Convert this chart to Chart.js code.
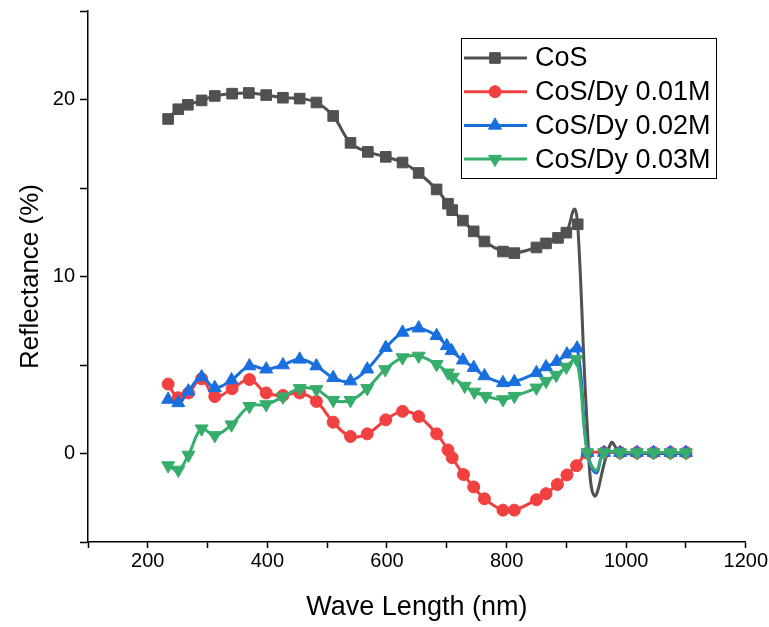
<!DOCTYPE html>
<html lang="en">
<head>
    <meta charset="UTF-8">
    <title>Reflectance</title>
    <script src="https://cdn.jsdelivr.net/npm/chart.js"></script>
    <style>
        body { margin: 0; background: #fff; }
        #wrap { width: 769px; height: 627px; }
    </style>
</head>
<body>
    <div id="wrap"><canvas id="refChart" width="769" height="627"></canvas></div>

    <script>
        // values (x in nm, y in %)
        const seriesNames = ['CoS', 'CoS/Dy 0.01M', 'CoS/Dy 0.02M', 'CoS/Dy 0.03M'];
        const seriesColors = ['#515151', '#F14040', '#1A6FDF', '#37AD6B'];

        const cosX = [234, 251, 267, 290, 312, 341, 369, 398, 426, 454, 482, 510, 539, 568, 598, 626, 653, 683, 702, 709, 727, 745, 763, 794, 813, 850, 866, 886, 900, 919];
        const cosY = [18.9, 19.45, 19.7, 19.95, 20.2, 20.33, 20.37, 20.25, 20.1, 20.05, 19.83, 19.07, 17.55, 17.04, 16.76, 16.44, 15.85, 14.92, 14.11, 13.75, 13.16, 12.55, 11.98, 11.41, 11.32, 11.64, 11.87, 12.18, 12.48, 12.95];
        // line only (no marker): overshoot of the spline after the drop
        const cosLineX = [913, 935, 947, 975, 990, 1018, 1046, 1074, 1100];
        const cosLineY = [13.8, 1.5, -2.4, 0.6, 0.05, 0, 0, 0, 0];

        const dy1X = [234, 251, 268, 290, 312, 341, 370, 398, 426, 454, 482, 510, 539, 567, 598, 626, 653, 683, 702, 709, 728, 745, 763, 794, 813, 850, 866, 885, 901, 917, 935, 963, 990, 1018, 1046, 1074, 1100];
        const dy1Y = [3.92, 3.15, 3.42, 4.22, 3.22, 3.66, 4.18, 3.42, 3.28, 3.42, 2.94, 1.77, 0.96, 1.11, 1.9, 2.38, 2.09, 1.11, 0.2, -0.24, -1.19, -1.89, -2.56, -3.2, -3.2, -2.61, -2.27, -1.75, -1.21, -0.69, 0.02, 0.05, 0.05, 0.05, 0.05, 0.05, 0.05];
        const dy1LineX = [];
        const dy1LineY = [];

        const dy2X = [234, 251, 268, 290, 312, 340, 370, 398, 426, 454, 482, 510, 539, 567, 598, 626, 653, 683, 700, 708, 727, 745, 763, 794, 813, 850, 866, 884, 901, 918, 935, 963, 990, 1018, 1046, 1074, 1100];
        const dy2Y = [3.05, 2.86, 3.52, 4.32, 3.71, 4.15, 4.94, 4.76, 5.0, 5.32, 4.94, 4.28, 4.09, 4.76, 5.98, 6.84, 7.08, 6.65, 6.08, 5.8, 5.27, 4.85, 4.38, 3.99, 4.05, 4.56, 4.89, 5.19, 5.61, 5.95, 0.05, 0.05, 0.05, 0.05, 0.05, 0.05, 0.05];
        const dy2LineX = [950];
        const dy2LineY = [-1.1];

        const dy3X = [234, 251, 268, 290, 312, 340, 370, 398, 426, 454, 482, 510, 539, 567, 597, 626, 653, 683, 702, 710, 730, 746, 765, 794, 813, 850, 866, 883, 900, 917, 935, 963, 990, 1018, 1046, 1074, 1100];
        const dy3Y = [-0.68, -0.93, -0.08, 1.4, 1.02, 1.63, 2.67, 2.77, 3.2, 3.68, 3.62, 3.01, 3.01, 3.68, 4.75, 5.42, 5.51, 5.04, 4.56, 4.32, 3.81, 3.48, 3.24, 3.05, 3.24, 3.71, 4.09, 4.43, 4.89, 5.32, 0.05, 0.05, 0.05, 0.05, 0.05, 0.05, 0.05];
        const dy3LineX = [950];
        const dy3LineY = [-0.95];

        const xTickLabels = [200, 400, 600, 800, 1000, 1200];
        const yTickLabels = [0, 10, 20];

        const pointStyles = ['rect', 'circle', 'triangle', 'triangle'];
        const pointRot = [0, 0, 0, 180];
        const pointSize = [7.5, 6, 7.5, 7.5];

        function buildPoints(xs, ys, lx, ly) {
            const pts = xs.map((x, i) => ({ x: x, y: ys[i], m: true }));
            lx.forEach((x, i) => pts.push({ x: x, y: ly[i], m: false }));
            return pts.sort((a, b) => a.x - b.x);
        }

        const allPoints = [
            buildPoints(cosX, cosY, cosLineX, cosLineY),
            buildPoints(dy1X, dy1Y, dy1LineX, dy1LineY),
            buildPoints(dy2X, dy2Y, dy2LineX, dy2LineY),
            buildPoints(dy3X, dy3Y, dy3LineX, dy3LineY)
        ];

        const datasets = seriesNames.map((name, i) => ({
            label: name,
            data: allPoints[i],
            borderColor: seriesColors[i],
            backgroundColor: seriesColors[i],
            borderWidth: 3,
            tension: 0.4,
            pointStyle: pointStyles[i],
            rotation: pointRot[i],
            pointRadius: ctx => (ctx.raw && ctx.raw.m ? pointSize[i] : 0),
            pointBorderWidth: 1,
            order: 3 - i
        }));

        // legend box inside the plot, line + marker like the original
        const boxLegend = {
            id: 'boxLegend',
            afterDraw(chart) {
                const ctx = chart.ctx;
                const left = 461, top = 38, w = 255, h = 140;
                ctx.save();
                ctx.strokeStyle = '#000';
                ctx.lineWidth = 1;
                ctx.strokeRect(left + 0.5, top + 0.5, w, h);
                ctx.font = '27px "Liberation Sans", Arial, sans-serif';
                ctx.textBaseline = 'middle';
                seriesNames.forEach((name, i) => {
                    const y = 58 + i * 33.7;
                    ctx.strokeStyle = seriesColors[i];
                    ctx.fillStyle = seriesColors[i];
                    ctx.lineWidth = 3;
                    ctx.beginPath();
                    ctx.moveTo(464, y);
                    ctx.lineTo(527, y);
                    ctx.stroke();
                    ctx.lineWidth = 1;
                    Chart.helpers.drawPoint(ctx, {
                        pointStyle: pointStyles[i],
                        rotation: pointRot[i],
                        radius: pointSize[i],
                        borderWidth: 1
                    }, 495, y);
                    ctx.fillStyle = '#000';
                    ctx.fillText(name, 535, y + 1);
                });
                ctx.restore();
            }
        };

        const ctx = document.getElementById('refChart').getContext('2d');
        new Chart(ctx, {
            type: 'line',
            data: { datasets: datasets },
            options: {
                responsive: false,
                animation: false,
                layout: { padding: { left: 15, right: 23, top: 0, bottom: 3 } },
                plugins: {
                    legend: { display: false },
                    tooltip: { enabled: false }
                },
                scales: {
                    x: {
                        type: 'linear',
                        min: 100,
                        max: 1200,
                        afterFit: s => { s.height = 82; },
                        border: { color: '#000', width: 1.5 },
                        grid: { drawOnChartArea: false, tickLength: 6, tickColor: '#000', tickWidth: 1.5 },
                        ticks: {
                            stepSize: 100,
                            autoSkip: false,
                            maxRotation: 0,
                            padding: 1,
                            color: '#000',
                            font: { family: '"Liberation Sans", Arial, sans-serif', size: 20 },
                            callback: v => (xTickLabels.includes(v) ? String(v) : '')
                        },
                        title: {
                            display: true,
                            text: 'Wave Length (nm)',
                            color: '#000',
                            padding: 0,
                            font: { family: '"Liberation Sans", Arial, sans-serif', size: 27 }
                        }
                    },
                    y: {
                        min: -5,
                        max: 25,
                        afterFit: s => { s.width = 73; },
                        border: { color: '#000', width: 1.5 },
                        grid: { drawOnChartArea: false, tickLength: 8, tickColor: '#000', tickWidth: 1.5 },
                        ticks: {
                            stepSize: 5,
                            autoSkip: false,
                            padding: 5,
                            color: '#000',
                            font: { family: '"Liberation Sans", Arial, sans-serif', size: 20, lineHeight: 0.6 },
                            callback: v => (yTickLabels.includes(v) ? String(v) : '')
                        },
                        title: {
                            display: true,
                            text: 'Reflectance (%)',
                            color: '#000',
                            padding: 0,
                            font: { family: '"Liberation Sans", Arial, sans-serif', size: 26 }
                        }
                    }
                }
            },
            plugins: [boxLegend]
        });
    </script>
</body>
</html>
